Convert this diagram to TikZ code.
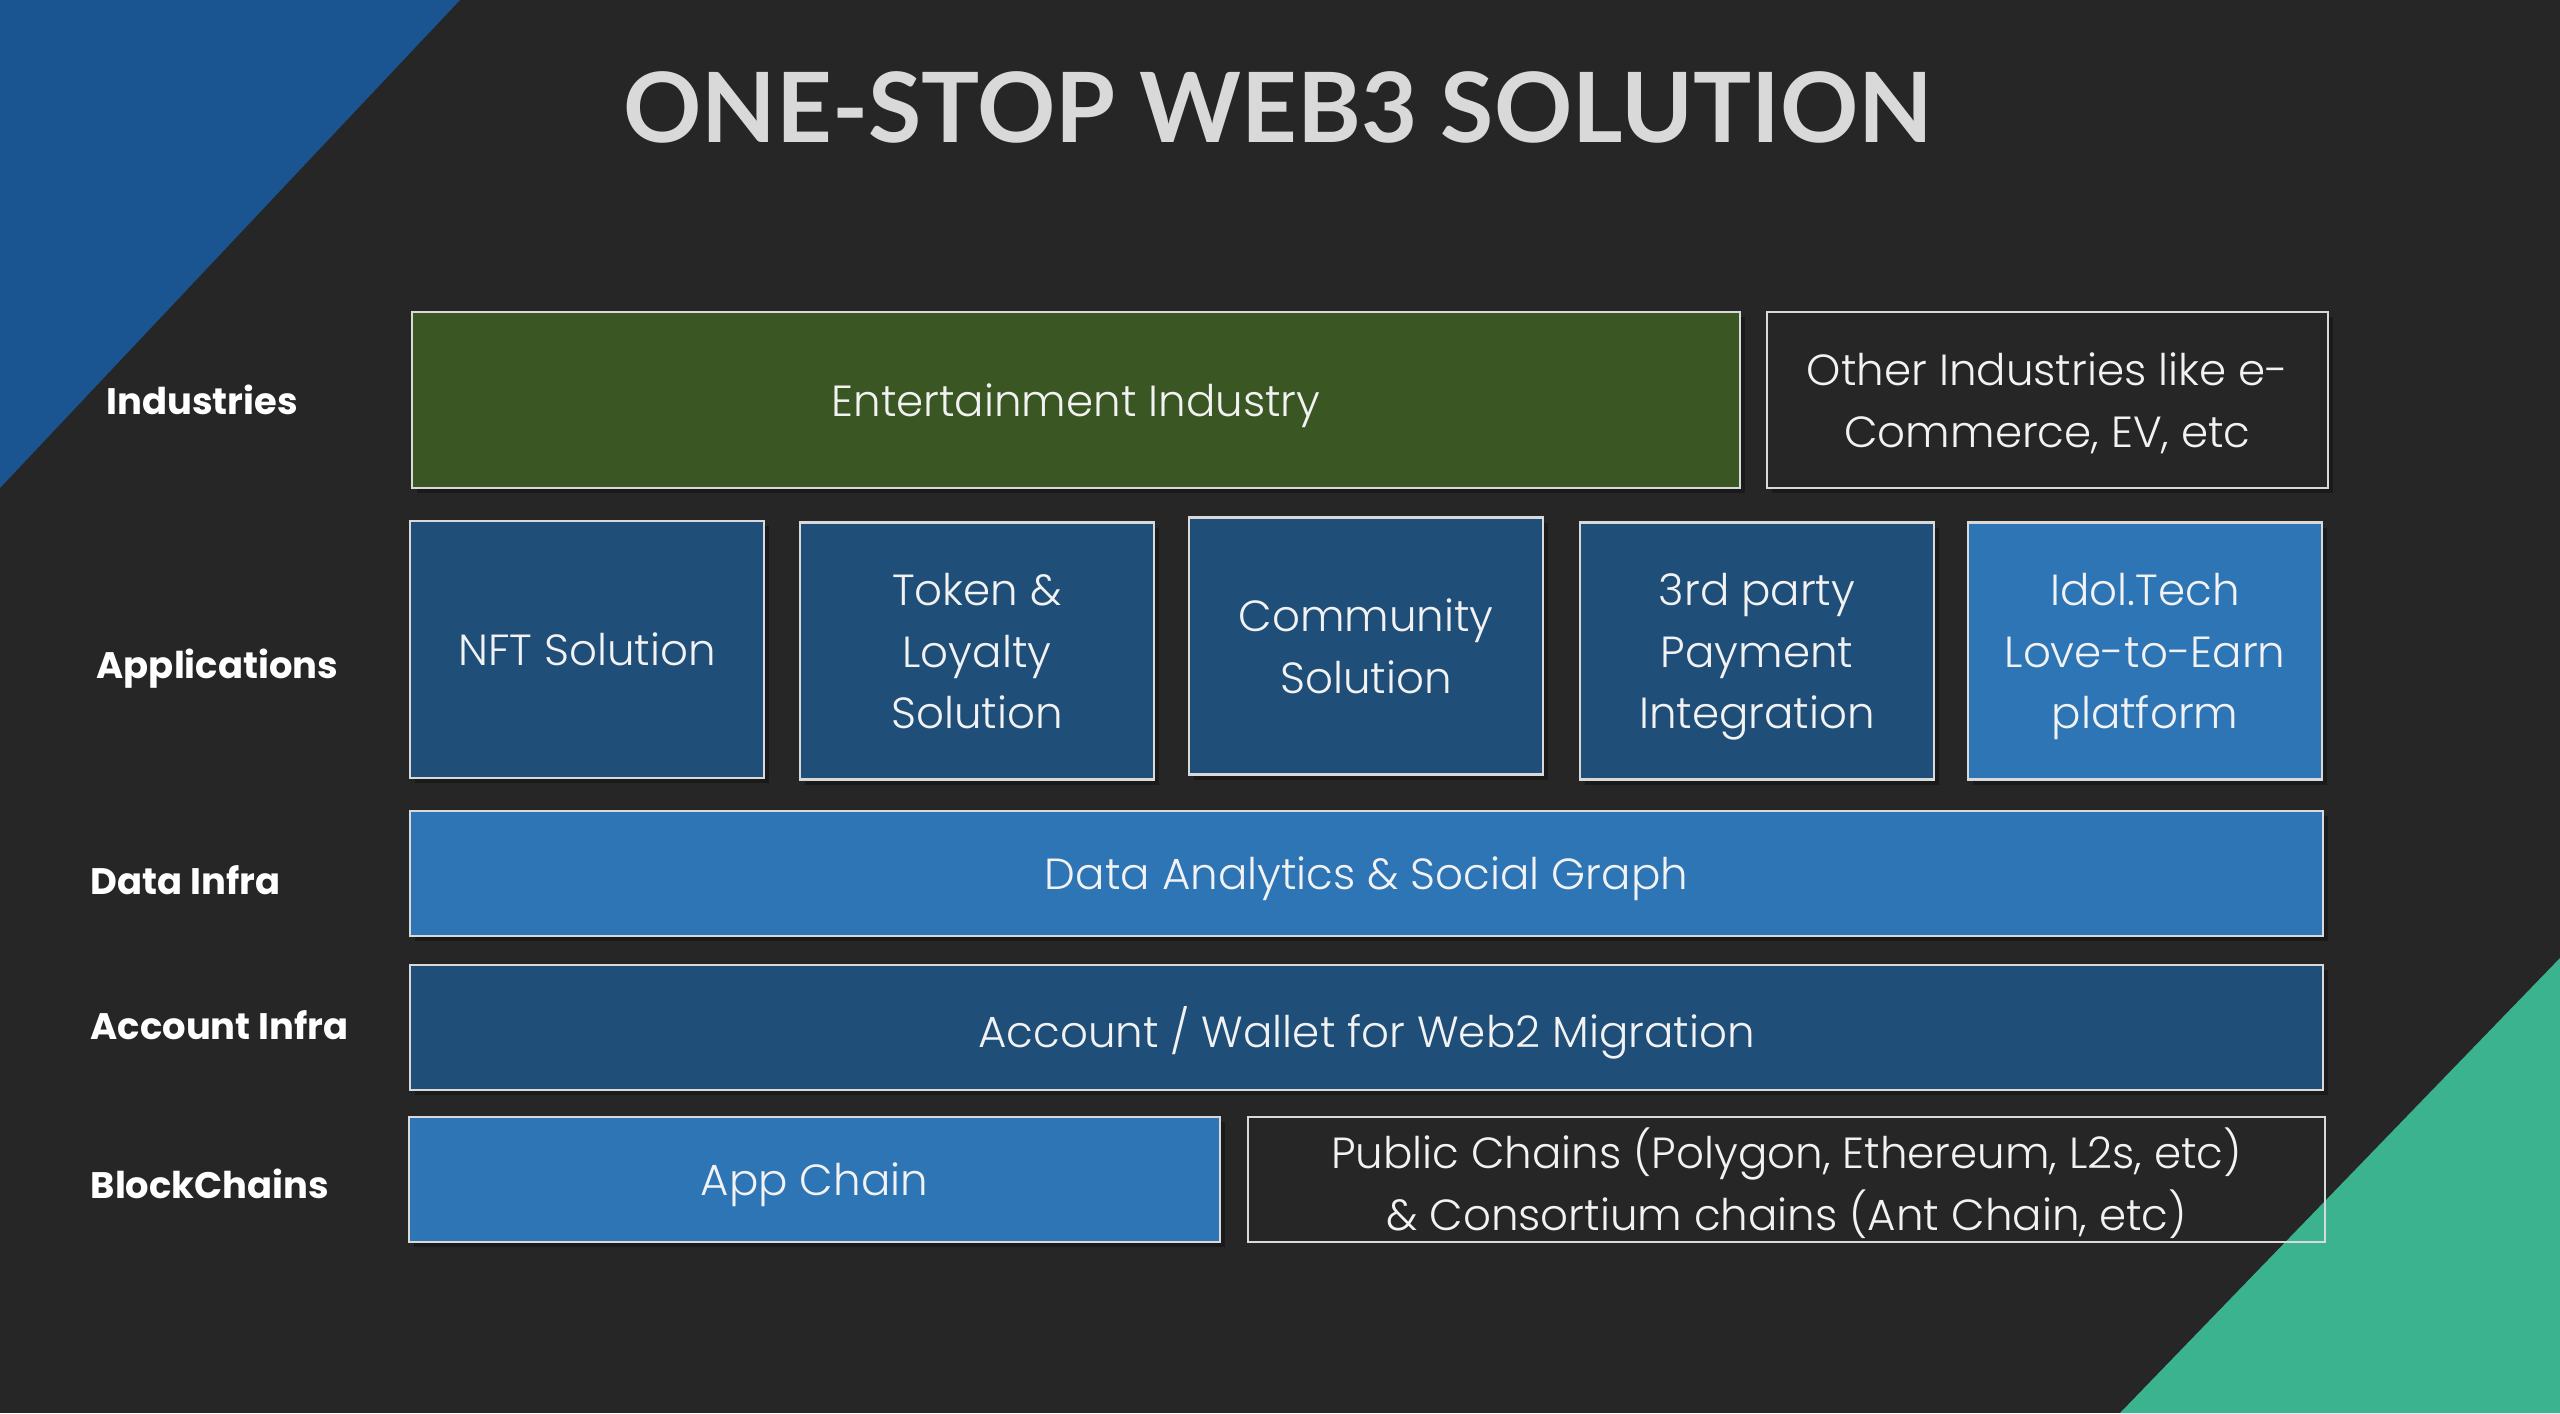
\documentclass[tikz,border=0pt]{standalone}
\usepackage{fontspec}
\setmainfont{Poppins}[UprightFont=* Light,BoldFont=* Bold]
\newfontfamily\titlefont{Lato}
\usepackage{xcolor}
\usepackage{tikz}
\usetikzlibrary{shadows}
\definecolor{bg}{RGB}{38,38,38}
\definecolor{navy}{RGB}{31,78,121}
\definecolor{sky}{RGB}{46,117,182}
\definecolor{moss}{RGB}{58,86,35}
\definecolor{corner}{RGB}{26,85,145}
\definecolor{mint}{RGB}{59,179,143}
\definecolor{rim}{RGB}{217,217,217}

\begin{document}
\begin{tikzpicture}[font=\fontsize{12.4}{17.6}\selectfont,
  bx/.style={draw=rim,line width=0.6pt,align=center,inner sep=0pt,text depth=0pt,text=white!95!black,minimum height=1.25cm},
  sh/.style={bx,drop shadow={shadow xshift=0.05cm,shadow yshift=-0.05cm,opacity=0.3,fill=black}},
  dk/.style={sh,fill=navy},
  lt/.style={sh,fill=sky},
  ind/.style={sh,minimum height=1.76cm},
  app/.style={minimum width=3.54cm,minimum height=2.57cm},
  lab/.style={anchor=west,inner sep=0pt,font=\fontsize{10.5}{12}\selectfont\bfseries,text=white}]
  \fill[bg] (0,0) rectangle (25.6,14.13);
  \fill[corner] (0,14.13) -- (4.60,14.13) -- (0,9.25) -- cycle;
  \fill[mint] (21.20,0) -- (25.6,0) -- (25.6,4.55) -- cycle;
  \node[text=rim,font=\titlefont\bfseries\fontsize{27.6}{30}\selectfont] (ttl) at (12.78,13.06) {ONE-STOP WEB3 SOLUTION};
  % row labels
  \node[lab] (lind) at (1.06,10.13) {Industries};
  \node[lab] (lapp) at (0.96,7.44) {Applications};
  \node[lab] (ldat) at (0.90,5.33) {Data Infra};
  \node[lab] (lacc) at (0.90,3.88) {Account Infra};
  \node[lab] (lchn) at (0.90,2.29) {BlockChains};
  % industries
  \node[ind,fill=moss,minimum width=13.28cm] (ent) at (10.76,10.13) {Entertainment Industry};
  \node[ind,fill=bg,minimum width=5.61cm] (oth) at (20.475,10.13) {Other Industries like e-\\Commerce, EV, etc};
  % applications
  \node[dk,app] (nft) at (5.87,7.635) {NFT Solution};
  \node[dk,app] (tok) at (9.77,7.62) {Token \&\\Loyalty\\Solution};
  \node[dk,app] (com) at (13.66,7.67) {Community\\Solution};
  \node[dk,app] (pay) at (17.57,7.62) {3rd party\\Payment\\Integration};
  \node[lt,app] (idol) at (21.45,7.62) {Idol.Tech\\Love-to-Earn\\platform};
  % infra
  \node[lt,minimum width=19.13cm] (dat) at (13.665,5.395) {Data Analytics \& Social Graph};
  \node[dk,minimum width=19.13cm] (acc) at (13.665,3.855) {Account / Wallet for Web2 Migration};
  % chains
  \node[lt,minimum width=8.11cm] (appc) at (8.145,2.335) {App Chain};
  \node[bx,minimum width=10.77cm] (pub) at (17.865,2.335) {Public Chains (Polygon, Ethereum, L2s, etc)\\\& Consortium chains (Ant Chain, etc)};
\end{tikzpicture}
\end{document}
